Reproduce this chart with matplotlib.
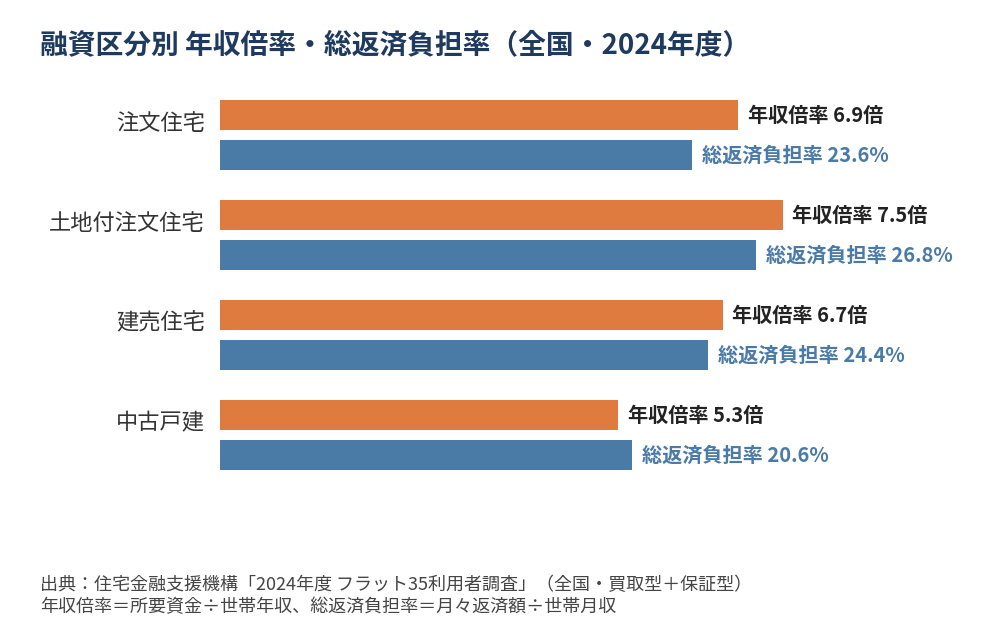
import matplotlib.pyplot as plt
import numpy as np

plt.rcParams['font.family'] = ['Noto Sans CJK JP', 'DejaVu Sans']

categories = ['注文住宅', '土地付注文住宅', '建売住宅', '中古戸建']
income_ratio = [6.9, 7.5, 6.7, 5.3]        # 年収倍率（倍）
repay_burden = [23.6, 26.8, 24.4, 20.6]    # 総返済負担率（%）

orange = '#E07B3F'
blue = '#4A7AA6'

fig = plt.figure(figsize=(10, 6.2), dpi=100)
fig.patch.set_facecolor('white')

# axes spanning x 220..980 px, y 80..490 px
ax = fig.add_axes([0.22, 130 / 620, 0.76, 410 / 620])
ax2 = ax.twiny()

y = np.arange(len(categories))
h = 0.3

ax.barh(y - 0.2, income_ratio, height=h, color=orange)
ax2.barh(y + 0.2, repay_burden, height=h, color=blue)

ax.set_xlim(0, 760 / 75)
ax2.set_xlim(0, 760 / 20)
ax.set_ylim(3.55, -0.55)
ax2.set_ylim(3.55, -0.55)

for a in (ax, ax2):
    a.axis('off')

for i, v in enumerate(income_ratio):
    ax.annotate(f'年収倍率 {v}倍', (v, i - 0.2), xytext=(10, 0),
                textcoords='offset pixels', va='center', ha='left',
                fontsize=14.5, fontweight='bold', color='#222222')
for i, v in enumerate(repay_burden):
    ax2.annotate(f'総返済負担率 {v}%', (v, i + 0.2), xytext=(10, 0),
                 textcoords='offset pixels', va='center', ha='left',
                 fontsize=14.5, fontweight='bold', color=blue)

for i, c in enumerate(categories):
    ax.annotate(c, (0, i - 0.12), xytext=(-15, 0), textcoords='offset pixels',
                va='center', ha='right', fontsize=16, color='#333333')

fig.text(0.04, 1 - 45 / 620, '融資区分別 年収倍率・総返済負担率（全国・2024年度）',
         fontsize=20, fontweight='bold', color='#1F3A5F', va='center', ha='left')

fig.text(0.04, 1 - 585 / 620,
         '出典：住宅金融支援機構「2024年度 フラット35利用者調査」（全国・買取型＋保証型）',
         fontsize=13, color='#444444', va='center', ha='left')
fig.text(0.04, 1 - 607 / 620,
         '年収倍率＝所要資金÷世帯年収、総返済負担率＝月々返済額÷世帯月収',
         fontsize=13, color='#444444', va='center', ha='left')

fig.savefig('out.png', dpi=100, facecolor='white')
